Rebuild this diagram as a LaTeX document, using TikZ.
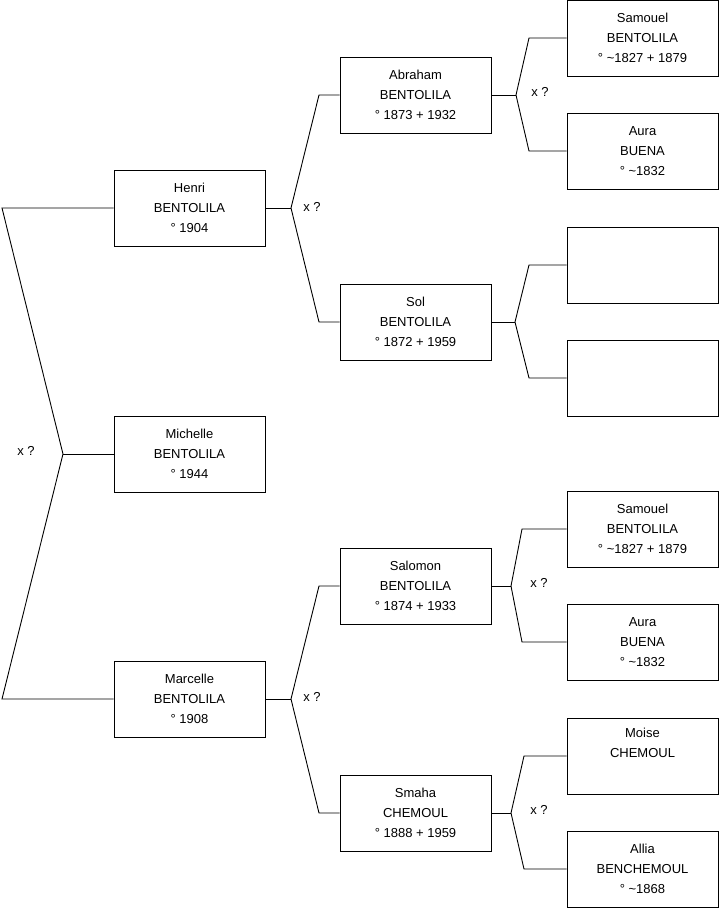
\documentclass[tikz,border=0pt]{standalone}
\usepackage{fontspec}
\setmainfont{Liberation Sans}
\begin{document}
\begin{tikzpicture}[x=1pt,y=-1pt,
  pbox/.style={draw=black,line width=1pt,minimum width=151pt,minimum height=76pt,inner sep=0pt,align=center,
    font=\fontsize{13}{20}\selectfont},
  link/.style={draw=black,line width=0.9pt},
  xq/.style={font=\fontsize{13}{15}\selectfont,inner sep=0pt}]
\useasboundingbox (0,0) rectangle (719,908);
% generation 1
\node[pbox] (henri) at (189.5,208) {Henri\\BENTOLILA\\° 1904};
\node[pbox] (michelle) at (189.5,454) {Michelle\\BENTOLILA\\° 1944};
\node[pbox] (marcelle) at (189.5,699) {Marcelle\\BENTOLILA\\° 1908};
% generation 2
\node[pbox] (abraham) at (415.5,95) {Abraham\\BENTOLILA\\° 1873 + 1932};
\node[pbox] (sol) at (415.5,322) {Sol\\BENTOLILA\\° 1872 + 1959};
\node[pbox] (salomon) at (415.5,586) {Salomon\\BENTOLILA\\° 1874 + 1933};
\node[pbox] (smaha) at (415.5,813) {Smaha\\CHEMOUL\\° 1888 + 1959};
% generation 3
\node[pbox] (samouel) at (642.5,38) {Samouel\\BENTOLILA\\° \textasciitilde 1827 + 1879};
\node[pbox] (aura) at (642.5,151) {Aura\\BUENA\\° \textasciitilde 1832};
\node[pbox] (empa) at (642.5,265) {};
\node[pbox] (empb) at (642.5,378) {};
\node[pbox] (samouelb) at (642.5,529) {Samouel\\BENTOLILA\\° \textasciitilde 1827 + 1879};
\node[pbox] (aurab) at (642.5,642) {Aura\\BUENA\\° \textasciitilde 1832};
\node[pbox] (moise) at (642.5,756) {Moise\\CHEMOUL\\\strut};
\node[pbox] (allia) at (642.5,869) {Allia\\BENCHEMOUL\\° \textasciitilde 1868};
% root bracket
\coordinate (rv) at (63,454);
\coordinate (ru) at (2,208);
\coordinate (rd) at (2,699);
\draw[link] (michelle.west) -- (rv);
\draw[link] (henri.west) -- (ru) -- (rv) -- (rd) -- (marcelle.west);
\node[xq] (xr) at (26,451) {x ?};
% Henri
\coordinate (hv) at (291,208);
\coordinate (hu) at (319,95);
\coordinate (hd) at (319,322);
\draw[link] (henri.east) -- (hv);
\draw[link] (abraham.west) -- (hu) -- (hv) -- (hd) -- (sol.west);
\node[xq] (xh) at (312,207) {x ?};
% Abraham
\coordinate (av) at (516,95);
\coordinate (au) at (529,38);
\coordinate (ad) at (529,151);
\draw[link] (abraham.east) -- (av);
\draw[link] (samouel.west) -- (au) -- (av) -- (ad) -- (aura.west);
\node[xq] (xa) at (540,92) {x ?};
% Sol
\coordinate (sv) at (515,322);
\coordinate (su) at (529,265);
\coordinate (sd) at (529,378);
\draw[link] (sol.east) -- (sv);
\draw[link] (empa.west) -- (su) -- (sv) -- (sd) -- (empb.west);
% Marcelle
\coordinate (mv) at (291,699);
\coordinate (mu) at (319,586);
\coordinate (md) at (319,813);
\draw[link] (marcelle.east) -- (mv);
\draw[link] (salomon.west) -- (mu) -- (mv) -- (md) -- (smaha.west);
\node[xq] (xm) at (312,697) {x ?};
% Salomon
\coordinate (lv) at (511,586);
\coordinate (lu) at (522,529);
\coordinate (ld) at (522,642);
\draw[link] (salomon.east) -- (lv);
\draw[link] (samouelb.west) -- (lu) -- (lv) -- (ld) -- (aurab.west);
\node[xq] (xl) at (539,583) {x ?};
% Smaha
\coordinate (cv) at (511,813);
\coordinate (cu) at (524,756);
\coordinate (cd) at (524,869);
\draw[link] (smaha.east) -- (cv);
\draw[link] (moise.west) -- (cu) -- (cv) -- (cd) -- (allia.west);
\node[xq] (xc) at (539,810) {x ?};
\end{tikzpicture}
\end{document}
